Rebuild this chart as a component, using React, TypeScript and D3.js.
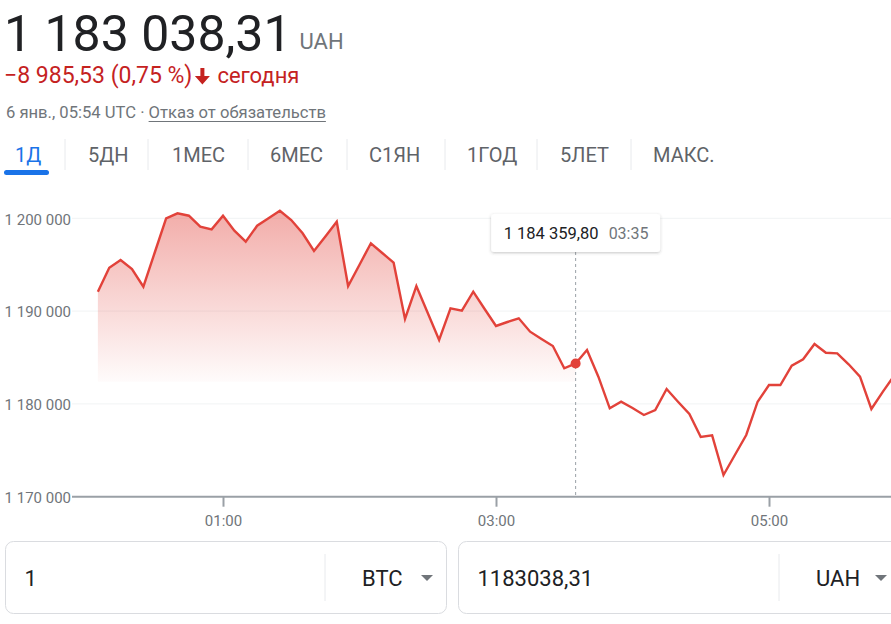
import React, { useRef, useEffect } from "react";
import * as d3 from "d3";

const W = 891;
const H = 624;

// 5-minute BTC/UAH quotes for the day
const times = [
  "00:05", "00:10", "00:15", "00:20", "00:25", "00:30", "00:35", "00:40", "00:45", "00:50", "00:55",
  "01:00", "01:05", "01:10", "01:15", "01:20", "01:25", "01:30", "01:35", "01:40", "01:45", "01:50", "01:55",
  "02:00", "02:05", "02:10", "02:15", "02:20", "02:25", "02:30", "02:35", "02:40", "02:45", "02:50", "02:55",
  "03:00", "03:05", "03:10", "03:15", "03:20", "03:25", "03:30", "03:35", "03:40", "03:45", "03:50", "03:55",
  "04:00", "04:05", "04:10", "04:15", "04:20", "04:25", "04:30", "04:35", "04:40", "04:45", "04:50", "04:55",
  "05:00", "05:05", "05:10", "05:15", "05:20", "05:25", "05:30", "05:35", "05:40", "05:45", "05:50", "05:55",
];
const prices = [
  1192090, 1194677, 1195506, 1194537, 1192629, 1196315, 1200000, 1200539, 1200280, 1199095, 1198815,
  1200280, 1198664, 1197478, 1199203, 1200000, 1200819, 1199817, 1198384, 1196476, 1198050, 1199634, 1192705,
  1195000, 1197306, 1196261, 1195215, 1189149, 1192705, 1189795, 1186886, 1190302, 1190043, 1192090, 1190226,
  1188394, 1188825, 1189224, 1187780, 1186993, 1186239, 1183836, 1184359.8, 1185808, 1182931, 1179526, 1180237,
  1179558, 1178804, 1179342, 1181605, 1180237, 1178911, 1176433, 1176616, 1172338, 1174493, 1176648, 1180237,
  1182036, 1182036, 1184116, 1184806, 1186455, 1185517, 1185452, 1184267, 1182931, 1179450, 1181300, 1183038.31,
];

const prevClose = 1192023.84;
const hoverTime = "03:35";
const fillBase = 1182400;

const yTicks = [1170000, 1180000, 1190000, 1200000];
const xTicks = ["01:00", "03:00", "05:00"];
const tabs = ["1Д", "5ДН", "1МЕС", "6МЕС", "С1ЯН", "1ГОД", "5ЛЕТ", "МАКС."];

const FONT = "Roboto, 'Liberation Sans', Arial, sans-serif";
const RED = "#e2423a";
const TEXT_RED = "#c5221f";
const GREY = "#70757a";
const DARK = "#202124";

const ru = d3.formatLocale({ decimal: ",", thousands: "\u00a0", grouping: [3], currency: ["", ""] });
const fmtInt = ru.format(",.0f");
const fmt2 = ru.format(",.2f");
const parse = d3.timeParse("%H:%M");

const App = () => {
  const ref = useRef<SVGSVGElement>(null);

  useEffect(() => {
    const svg = d3.select(ref.current);
    svg.selectAll("*").remove();
    svg.style("font-family", FONT);

    const last = prices[prices.length - 1];
    const change = last - prevClose;
    const width = (s: any) => (s.node() as SVGTextElement).getComputedTextLength();

    // ---- header
    const big = svg.append("text").attr("x", 4).attr("y", 51)
      .attr("font-size", 50).attr("fill", DARK).text(fmt2(last));
    svg.append("text").attr("x", 4 + width(big) + 8).attr("y", 49)
      .attr("font-size", 22).attr("fill", GREY).text("UAH");

    const chg = svg.append("text").attr("x", 4).attr("y", 83)
      .attr("font-size", 23).attr("fill", TEXT_RED)
      .text(fmt2(change) + " (" + ru.format(".2f")(Math.abs(change / prevClose * 100)) + "\u00a0%)");
    const cx = 4 + width(chg) + 10;
    svg.append("path")
      .attr("d", `M${cx - 2},68 h4 v8 h5.5 l-7.5,8.5 l-7.5,-8.5 h5.5 z`)
      .attr("fill", TEXT_RED);
    svg.append("text").attr("x", cx + 15).attr("y", 83)
      .attr("font-size", 22).attr("fill", TEXT_RED).text("сегодня");

    const date = svg.append("text").attr("x", 6).attr("y", 118)
      .attr("font-size", 16.6).attr("fill", GREY).text("6 янв., 05:54 UTC ·\u00a0");
    const dateW = width(date);
    const link = svg.append("text").attr("x", 6 + dateW).attr("y", 118)
      .attr("font-size", 16.6).attr("fill", GREY).text("Отказ от обязательств");
    const linkW = width(link);
    svg.append("line").attr("x1", 6 + dateW).attr("x2", 6 + dateW + linkW)
      .attr("y1", 121.5).attr("y2", 121.5).attr("stroke", GREY).attr("stroke-width", 1);

    // ---- range tabs
    const tabX = [15, 88, 172, 270, 369, 467, 560, 653];
    const sepX = [65, 148, 248, 347, 445, 537, 631];
    tabs.forEach((t, i) => {
      svg.append("text").attr("x", tabX[i]).attr("y", 162)
        .attr("font-size", 20).attr("fill", i === 0 ? "#1a73e8" : "#5f6368").text(t);
    });
    svg.append("g").selectAll("line").data(sepX).join("line")
      .attr("x1", d => d).attr("x2", d => d).attr("y1", 139).attr("y2", 170)
      .attr("stroke", "#e8eaed").attr("stroke-width", 1);
    svg.append("rect").attr("x", 4).attr("y", 170).attr("width", 45).attr("height", 5)
      .attr("rx", 2.5).attr("fill", "#1a73e8");

    // ---- chart
    const x = d3.scaleTime().domain([parse("00:00") as Date, parse("06:00") as Date]).range([86.5, 905.5]);
    const y = d3.scaleLinear().domain([1170000, 1200000]).range([496.7, 218.3]);
    const pts: [Date, number][] = times.map((t, i) => [parse(t) as Date, prices[i]]);

    const defs = svg.append("defs");
    const grad = defs.append("linearGradient").attr("id", "fillGrad")
      .attr("gradientUnits", "userSpaceOnUse").attr("x1", 0).attr("x2", 0)
      .attr("y1", y(1201000)).attr("y2", y(fillBase));
    grad.append("stop").attr("offset", 0).attr("stop-color", RED).attr("stop-opacity", 0.44);
    grad.append("stop").attr("offset", 1).attr("stop-color", RED).attr("stop-opacity", 0.02);
    const hx = x(parse(hoverTime) as Date);
    defs.append("clipPath").attr("id", "hoverClip").append("rect")
      .attr("x", 0).attr("y", 0).attr("width", hx).attr("height", H);
    const sh = defs.append("filter").attr("id", "shadow").attr("x", -0.2).attr("y", -0.3)
      .attr("width", 1.4).attr("height", 1.8);
    sh.append("feDropShadow").attr("dx", 0).attr("dy", 1).attr("stdDeviation", 1.5)
      .attr("flood-color", "#3c4043").attr("flood-opacity", 0.3);

    svg.append("g").selectAll("line").data(yTicks.slice(1)).join("line")
      .attr("x1", 72).attr("x2", W).attr("y1", d => y(d)).attr("y2", d => y(d))
      .attr("stroke", "#f1f3f4").attr("stroke-width", 1);

    const yAxis = svg.append("g").attr("transform", "translate(72,0)")
      .call(d3.axisLeft(y).tickValues(yTicks).tickSize(0).tickPadding(1).tickFormat(d => fmtInt(d as number)));
    yAxis.select(".domain").remove();
    yAxis.selectAll("text").attr("font-size", 15).attr("fill", GREY).attr("font-family", FONT).attr("dy", "0.38em");

    const area = d3.area<[Date, number]>()
      .x(d => x(d[0])).y0(y(fillBase)).y1(d => y(d[1]));
    svg.append("path").datum(pts).attr("d", area).attr("fill", "url(#fillGrad)")
      .attr("clip-path", "url(#hoverClip)");

    const xAxis = svg.append("g").attr("transform", `translate(0,${y(1170000)})`)
      .call(d3.axisBottom(x).tickValues(xTicks.map(t => parse(t) as Date))
        .tickSize(10).tickPadding(9).tickFormat(d => d3.timeFormat("%H:%M")(d as Date)));
    xAxis.select(".domain").remove();
    xAxis.selectAll(".tick line").attr("stroke", "#9aa0a6").attr("stroke-width", 2);
    xAxis.selectAll("text").attr("font-size", 15).attr("fill", GREY).attr("font-family", FONT);
    svg.append("line").attr("x1", 72).attr("x2", W).attr("y1", y(1170000)).attr("y2", y(1170000))
      .attr("stroke", "#9aa0a6").attr("stroke-width", 2);

    svg.append("line").attr("x1", hx).attr("x2", hx).attr("y1", 252).attr("y2", y(1170000) - 1)
      .attr("stroke", "#9aa0a6").attr("stroke-width", 1).attr("stroke-dasharray", "3,3");

    const line = d3.line<[Date, number]>().x(d => x(d[0])).y(d => y(d[1]));
    svg.append("path").datum(pts).attr("d", line).attr("fill", "none")
      .attr("stroke", RED).attr("stroke-width", 2.4).attr("stroke-linejoin", "miter");

    const hoverPrice = prices[times.indexOf(hoverTime)];
    svg.append("circle").attr("cx", hx).attr("cy", y(hoverPrice)).attr("r", 5).attr("fill", RED);

    // tooltip
    const tip = svg.append("g");
    tip.append("rect").attr("x", hx - 84.5).attr("y", 214).attr("width", 169).attr("height", 38)
      .attr("rx", 3).attr("fill", "#fff").attr("filter", "url(#shadow)");
    tip.append("text").attr("x", hx - 72).attr("y", 239).attr("font-size", 16.5).attr("fill", DARK)
      .text(fmt2(hoverPrice));
    tip.append("text").attr("x", hx + 33).attr("y", 239).attr("font-size", 16).attr("fill", GREY)
      .text(hoverTime);

    // ---- converter boxes
    const boxes = [
      { x: 5.5, w: 441, div: 325, value: "1", cur: "BTC" },
      { x: 458.5, w: 460, div: 779, value: ru.format(".2f")(last), cur: "UAH" },
    ];
    boxes.forEach(b => {
      svg.append("rect").attr("x", b.x).attr("y", 541.5).attr("width", b.w).attr("height", 72)
        .attr("rx", 8).attr("fill", "#fff").attr("stroke", "#dadce0");
      svg.append("line").attr("x1", b.div).attr("x2", b.div).attr("y1", 554).attr("y2", 601)
        .attr("stroke", "#e8eaed");
      svg.append("text").attr("x", b.x + 19).attr("y", 586).attr("font-size", 22).attr("fill", DARK)
        .text(b.value);
      svg.append("text").attr("x", b.div + 37).attr("y", 586).attr("font-size", 22).attr("fill", DARK)
        .text(b.cur);
      svg.append("path").attr("d", `M${b.div + 96},575 h12 l-6,6 z`).attr("fill", GREY);
    });
  }, []);

  return (
    <svg ref={ref} width={W} height={H} style={{ position: "absolute", left: 0, top: 0, background: "#fff" }} />
  );
};

export default App;
